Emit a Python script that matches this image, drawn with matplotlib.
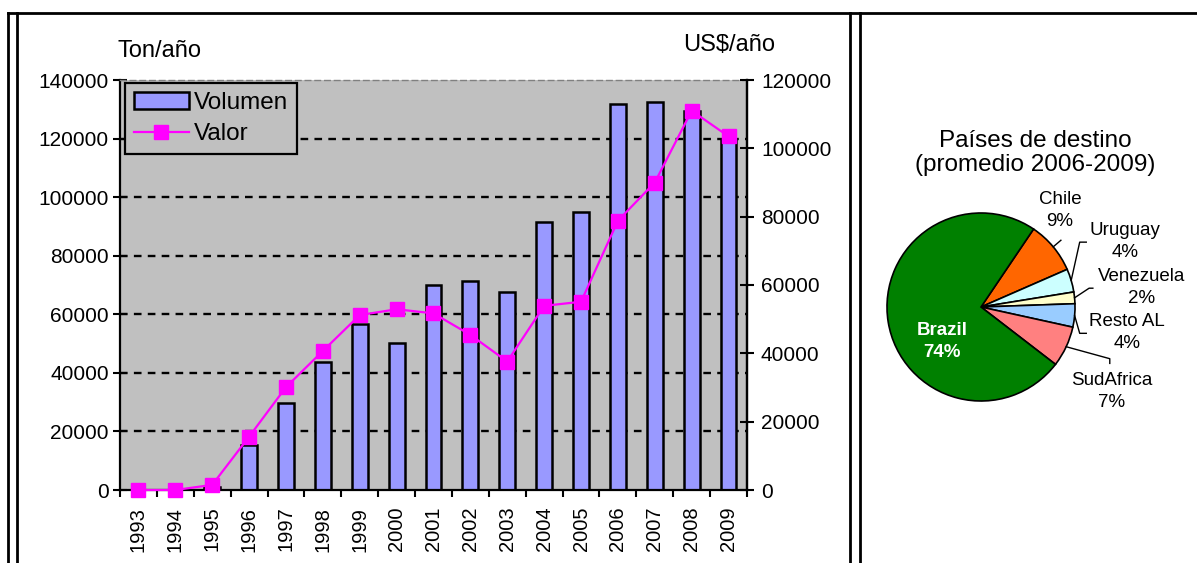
import matplotlib
matplotlib.use("Agg")
import matplotlib.pyplot as plt
import numpy as np
from matplotlib.lines import Line2D
from matplotlib.patches import Patch

plt.rcParams['font.family'] = ['Liberation Sans', 'DejaVu Sans']
plt.rcParams['lines.scale_dashes'] = False

# ---- data ----
years = ['1993', '1994', '1995', '1996', '1997', '1998', '1999', '2000', '2001',
         '2002', '2003', '2004', '2005', '2006', '2007', '2008', '2009']
volumen = [0, 0, 1000, 15500, 29800, 43800, 56700, 50100, 70000,
           71400, 67600, 91500, 95000, 131800, 132600, 129500, 120000]
valor = [0, 0, 1500, 15600, 30100, 40700, 51200, 52900, 51700,
         45400, 37600, 53900, 55100, 78800, 90000, 111000, 103500]

left_ticks = [0, 20000, 40000, 60000, 80000, 100000, 120000, 140000]
right_ticks = [0, 20000, 40000, 60000, 80000, 100000, 120000]

pie_labels = ['Chile', 'Uruguay', 'Venezuela', 'Resto AL', 'SudAfrica', 'Brazil']
pie_values = [9, 4, 2, 4, 7, 74]
pie_colors = ['#FF6600', '#CCFFFF', '#FFFFCC', '#99CCFF', '#FF8080', '#008000']

W, H = 1197, 563
fig = plt.figure(figsize=(W / 100, H / 100), dpi=100)


def px_rect(x0, y0, x1, y1):
    return [x0 / W, 1 - y1 / H, (x1 - x0) / W, (y1 - y0) / H]


# ---- table frame ----
def fline(xs, ys, lw=2.0):
    fig.add_artist(Line2D([x / W for x in xs], [1 - y / H for y in ys],
                          transform=fig.transFigure, color='black', lw=lw))


fline([8, W], [12.5, 12.5])
for xv in (8, 17, 850, 860):
    fline([xv, xv], [12.5, H])

# ---- bar + line chart ----
ax1 = fig.add_axes(px_rect(120, 80, 747, 490))
ax1.set_facecolor('#C0C0C0')
x = np.arange(len(years))
ax1.bar(x, volumen, width=0.43, color='#9999FF', edgecolor='black',
        linewidth=1.8, zorder=2)
ax1.set_xlim(-0.5, len(years) - 0.5)
ax1.set_ylim(left_ticks[0], left_ticks[-1])
ax1.set_yticks(left_ticks)
ax1.set_yticklabels([str(t) for t in left_ticks], fontsize=15)
for t in left_ticks[1:-1]:
    ax1.axhline(t, color='black', lw=1.7, dashes=(5.5, 4.5), zorder=1)

ax1.set_xticks(np.arange(len(years) + 1) - 0.5)
ax1.set_xticklabels([])
ax1.set_xticks(x, minor=True)
ax1.set_xticklabels(years, minor=True, rotation=90, fontsize=14.5)
ax1.tick_params(axis='x', which='major', direction='out', length=5, width=1.5)
ax1.tick_params(axis='x', which='minor', length=0, pad=12)
ax1.tick_params(axis='y', direction='inout', length=10, width=1.5, pad=3)

for s in ('left', 'bottom', 'right'):
    ax1.spines[s].set_linewidth(1.6)
ax1.spines['top'].set_color('#808080')
ax1.spines['top'].set_linestyle((0, (4, 3)))
ax1.spines['top'].set_linewidth(1.0)

ax2 = ax1.twinx()
ax2.plot(x, valor, color='#FF00FF', lw=1.6, marker='s', markersize=9.5,
         markerfacecolor='#FF00FF', markeredgecolor='#FF00FF', clip_on=False,
         zorder=5)
ax2.set_ylim(right_ticks[0], right_ticks[-1])
ax2.set_yticks(right_ticks)
ax2.set_yticklabels([str(t) for t in right_ticks], fontsize=15)
ax2.tick_params(axis='y', direction='inout', length=10, width=1.5, pad=5)
for s in ax2.spines.values():
    s.set_visible(False)
ax2.spines['right'].set_visible(True)
ax2.spines['right'].set_linewidth(1.6)

handles = [Patch(facecolor='#9999FF', edgecolor='black', linewidth=1.8),
           Line2D([], [], color='#FF00FF', lw=1.6, marker='s', markersize=9.5)]
leg = ax2.legend(handles, ['Volumen', 'Valor'], loc='upper left',
                 bbox_to_anchor=(5 / 627, 1 - 3 / 410), borderaxespad=0,
                 fontsize=17.5, frameon=True, fancybox=False,
                 facecolor='#C0C0C0', edgecolor='black', framealpha=1,
                 handlelength=2.3, handletextpad=0.2, borderpad=0.35,
                 labelspacing=0.4)
leg.get_frame().set_linewidth(1.6)

fig.text(118 / W, 1 - 51 / H, 'Ton/año', fontsize=17, ha='left', va='center')
fig.text(683 / W, 1 - 45 / H, 'US$/año', fontsize=17, ha='left', va='center')

# ---- pie chart ----
axp = fig.add_axes(px_rect(887, 213, 1075, 401))
wedges, _ = axp.pie(pie_values, colors=pie_colors, startangle=56,
                    counterclock=False,
                    wedgeprops=dict(edgecolor='black', linewidth=1.2))
axp.set_xlim(-1, 1)
axp.set_ylim(-1, 1)
axp.set_aspect('equal')

fig.text(1035 / W, 1 - 153 / H, 'Países de destino\n(promedio 2006-2009)',
         fontsize=17.5, ha='center', va='center', linespacing=1.08)

label_pos = {'Chile': (0.84, 1.03), 'Uruguay': (1.53, 0.70),
             'Venezuela': (1.71, 0.21), 'Resto AL': (1.55, -0.27),
             'SudAfrica': (1.39, -0.90), 'Brazil': (-0.41, -0.37)}
leader_pts = {'Chile': [(0.85, 0.71)],
              'Uruguay': [(1.05, 0.69), (1.12, 0.69)],
              'Venezuela': [(1.15, 0.20), (1.19, 0.20)],
              'Resto AL': [(1.05, -0.28), (1.12, -0.28)],
              'SudAfrica': [(1.37, -0.55), (1.37, -0.60)]}

for w, name, val in zip(wedges, pie_labels, pie_values):
    lx, ly = label_pos[name]
    if name == 'Brazil':
        axp.text(lx, ly, f'{name}\n{val}%', ha='center', va='center',
                 fontsize=13.5, color='white', fontweight='bold',
                 linespacing=1.4)
        continue
    axp.text(lx, ly, f'{name}\n{val}%', ha='center', va='center',
             fontsize=13.5, linespacing=1.4, clip_on=False)
    mid = np.deg2rad((w.theta1 + w.theta2) / 2)
    pts = [(np.cos(mid), np.sin(mid))] + leader_pts[name]
    axp.plot([p[0] for p in pts], [p[1] for p in pts], color='black',
             lw=1.0, clip_on=False)

fig.savefig('out.png', dpi=100, facecolor='white')
